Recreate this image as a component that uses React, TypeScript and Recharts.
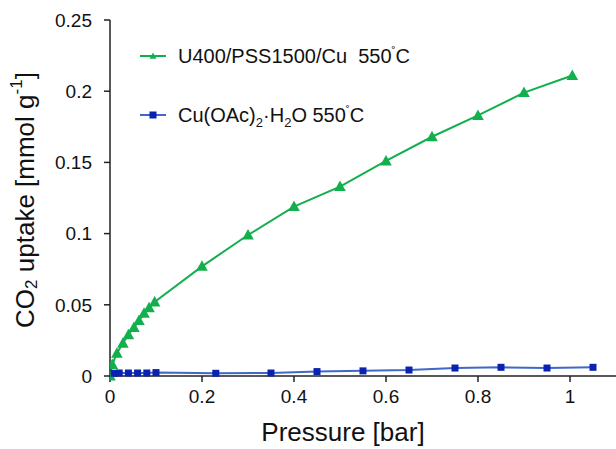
import { LineChart, Line, XAxis, YAxis, Label } from 'recharts';

// CO2 uptake isotherms.
const pressureCu = [0, 0.005, 0.015, 0.028, 0.04, 0.052, 0.063, 0.074, 0.085, 0.097, 0.2, 0.3, 0.4, 0.5, 0.6, 0.7, 0.8, 0.9, 1.005];
const uptakeCu = [0, 0.008, 0.016, 0.023, 0.029, 0.034, 0.039, 0.044, 0.048, 0.052, 0.077, 0.099, 0.119, 0.133, 0.151, 0.168, 0.183, 0.199, 0.211];

const pressureAc = [0.009, 0.02, 0.04, 0.06, 0.08, 0.1, 0.23, 0.35, 0.45, 0.55, 0.65, 0.75, 0.85, 0.95, 1.05];
const uptakeAc = [0.0019, 0.0021, 0.0021, 0.0021, 0.0021, 0.0024, 0.0019, 0.0021, 0.0031, 0.0036, 0.0042, 0.0056, 0.0061, 0.0056, 0.0061];

const xTicks = [0, 0.2, 0.4, 0.6, 0.8, 1];
const yTicks = [0, 0.05, 0.1, 0.15, 0.2, 0.25];

const GREEN = '#12b04c';
const BLUE_LINE = '#3f68c8';
const BLUE_DOT = '#0a22b0';
const FONT = '"Liberation Sans", Arial, sans-serif';

const cuData = pressureCu.map((x, i) => ({ x, y: uptakeCu[i] }));
const acData = pressureAc.map((x, i) => ({ x, y: uptakeAc[i] }));

const tri = (cx: number, cy: number, s: number) =>
  `M${cx},${cy - s * 0.6} L${cx + s * 0.58},${cy + s * 0.45} L${cx - s * 0.58},${cy + s * 0.45} Z`;

function TriDot(props: any) {
  const { cx, cy, index } = props;
  if (cx == null || cy == null) return <g key={index} />;
  return <path key={index} d={tri(cx, cy, 10)} fill={GREEN} />;
}

function SqDot(props: any) {
  const { cx, cy, index } = props;
  if (cx == null || cy == null) return <g key={index} />;
  return <rect key={index} x={cx - 3.5} y={cy - 3.5} width={7} height={7} fill={BLUE_DOT} />;
}

// legend drawn as an overlay so it does not eat into the plot area
function LegendBox() {
  return (
    <svg
      width={320}
      height={100}
      style={{ position: 'absolute', left: 130, top: 35, fontFamily: FONT, overflow: 'visible' }}
    >
      <line x1={10} y1={21} x2={36} y2={21} stroke={GREEN} strokeWidth={2} />
      <path d={tri(23, 21, 6)} fill={GREEN} />
      <text x={48} y={28} fontSize={20} fill="#111">
        U400/PSS1500/Cu{'\u00a0\u00a0'}550<tspan fontSize={12} dy={-7}>˚</tspan><tspan dy={7}>C</tspan>
      </text>
      <line x1={10} y1={80} x2={36} y2={80} stroke={BLUE_LINE} strokeWidth={2} />
      <rect x={19.5} y={76.5} width={7} height={7} fill={BLUE_DOT} />
      <text x={48} y={87} fontSize={20} fill="#111">
        Cu(OAc)<tspan fontSize={13} dy={5}>2</tspan><tspan dy={-5}>·H</tspan>
        <tspan fontSize={13} dy={5}>2</tspan><tspan dy={-5}>O 550</tspan>
        <tspan fontSize={12} dy={-7}>˚</tspan><tspan dy={7}>C</tspan>
      </text>
    </svg>
  );
}

function YTitle() {
  const cx = 25;
  const cy = 200;
  return (
    <text
      x={cx}
      y={cy}
      transform={`rotate(-90 ${cx} ${cy})`}
      textAnchor="middle"
      dominantBaseline="central"
      fontSize={26}
      fontFamily={FONT}
      fill="#111"
    >
      CO<tspan fontSize={17} dy={6}>2</tspan>
      <tspan dy={-6}> uptake [mmol g</tspan>
      <tspan fontSize={17} dy={-9}>-1</tspan>
      <tspan dy={9}>]</tspan>
    </text>
  );
}

const tickStyle = { fontSize: 19, fill: '#111', fontFamily: FONT };

export default function App() {
  return (
    <div style={{ position: 'absolute', left: 0, top: 0, width: 616, height: 449, background: '#fff' }}>
      <LineChart width={616} height={449} margin={{ top: 20, right: 0, bottom: 0, left: 0 }}>
        <XAxis
          type="number"
          dataKey="x"
          domain={[0, 1.1]}
          ticks={xTicks}
          allowDataOverflow
          height={73}
          tick={tickStyle}
          tickSize={6}
          tickMargin={8}
          stroke="#222"
          strokeWidth={1.5}
        >
          <Label
            value="Pressure [bar]"
            position="insideBottom"
            offset={8}
            dx={-20}
            style={{ fontSize: 26, fill: '#111', fontFamily: FONT }}
          />
        </XAxis>
        <YAxis
          type="number"
          dataKey="y"
          domain={[0, 0.25]}
          ticks={yTicks}
          width={110}
          tick={tickStyle}
          tickSize={6}
          tickMargin={12}
          stroke="#222"
          strokeWidth={1.5}
          label={<YTitle />}
        />
        <Line
          data={cuData}
          dataKey="y"
          type="linear"
          stroke={GREEN}
          strokeWidth={2}
          dot={<TriDot />}
          activeDot={false}
          isAnimationActive={false}
        />
        <Line
          data={acData}
          dataKey="y"
          type="linear"
          stroke={BLUE_LINE}
          strokeWidth={2}
          dot={<SqDot />}
          activeDot={false}
          isAnimationActive={false}
        />
      </LineChart>
      <LegendBox />
    </div>
  );
}
